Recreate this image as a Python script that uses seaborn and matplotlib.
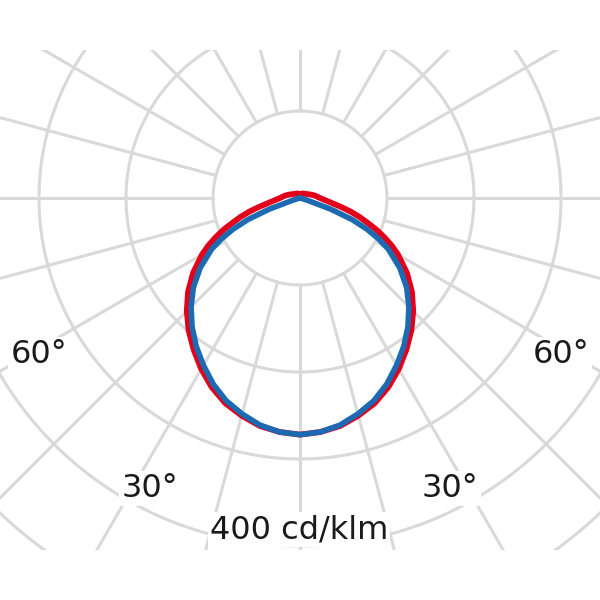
import numpy as np
import matplotlib
matplotlib.use("Agg")
import matplotlib.pyplot as plt
from matplotlib.patches import Rectangle
import seaborn as sns

# luminous intensity distribution, cd/klm, angle from nadir (symmetric)
angles_deg = [0, 5, 10, 15, 20, 25, 30, 35, 40, 45, 50, 55, 60, 62.5, 65,
              67.5, 70, 72.5, 75, 77.5, 80, 85, 90, 100, 110, 120, 135, 150,
              165, 180]
c0_c180 = [272, 270, 266, 259, 251, 240, 227, 213, 199, 184, 168, 150, 130,
           119, 107, 95, 82, 71, 60, 49, 40, 29, 23, 17, 12, 9, 7, 6, 5, 4]
c90_c270 = [272, 270, 265, 257, 248, 236, 222, 208, 193, 177, 160, 140, 117,
            102, 85, 65, 38, 10, 2, 1, 0, 0, 0, 0, 0, 0, 0, 0, 0, 0]

ring_values = [100, 200, 300, 400, 500, 600]
spoke_angles = list(range(0, 360, 15))
angle_labels = ["60°", "30°", "30°", "60°"]
scale_label = "400 cd/klm"

red = "#e2001a"
blue = "#1c6ab2"
grid_col = "#d9d9d9"

sns.set_style("white")
plt.rcParams['font.family'] = ['DejaVu Sans']

fig = plt.figure(figsize=(6, 6), dpi=100)
# polar axes centred at (300, 198) px, 0.87 px per cd/klm
ax = fig.add_axes([-0.37, -0.2, 1.74, 1.74], projection='polar')
ax.set_theta_zero_location('S')
ax.set_ylim(0, 600)
ax.grid(False)
ax.set_xticks([])
ax.set_yticks([])
ax.spines['polar'].set_visible(False)

# grid: rings and spokes starting at the first ring
t = np.linspace(0, 2 * np.pi, 721)
for rv in ring_values:
    ax.plot(t, np.full_like(t, rv), color=grid_col, lw=2.2, zorder=1)
for a in spoke_angles:
    ax.plot([np.radians(a)] * 2, [ring_values[0], ring_values[-1]],
            color=grid_col, lw=2.2, zorder=1)


def full_curve(values):
    a = np.array(angles_deg, dtype=float)
    v = np.array(values, dtype=float)
    th = np.concatenate([-a[::-1], a[1:]])
    r = np.concatenate([v[::-1], v[1:]])
    return np.radians(th), r


th, r = full_curve(c0_c180)
sns.lineplot(x=th, y=r, ax=ax, color=red, linewidth=4.2, sort=False,
             estimator=None, zorder=3)
th, r = full_curve(c90_c270)
sns.lineplot(x=th, y=r, ax=ax, color=blue, linewidth=4.0, sort=False,
             estimator=None, zorder=4)
ax.set_xlabel("")
ax.set_ylabel("")

clip = Rectangle((0, 50 / 600), 1, 500 / 600, transform=fig.transFigure)
for ln in ax.lines:
    ln.set_clip_path(clip)

box = dict(facecolor='white', edgecolor='none', pad=1.5)
txt = dict(ha='center', va='baseline', fontsize=23, color='#1a1a1a', bbox=box)
fig.text(39 / 600, 1 - 363 / 600, angle_labels[0], **txt)
fig.text(150 / 600, 1 - 497 / 600, angle_labels[1], **txt)
fig.text(450 / 600, 1 - 497 / 600, angle_labels[2], **txt)
fig.text(561 / 600, 1 - 363 / 600, angle_labels[3], **txt)
fig.text(299 / 600, 1 - 538 / 600, scale_label, **txt)

fig.savefig("out.png", dpi=100)
